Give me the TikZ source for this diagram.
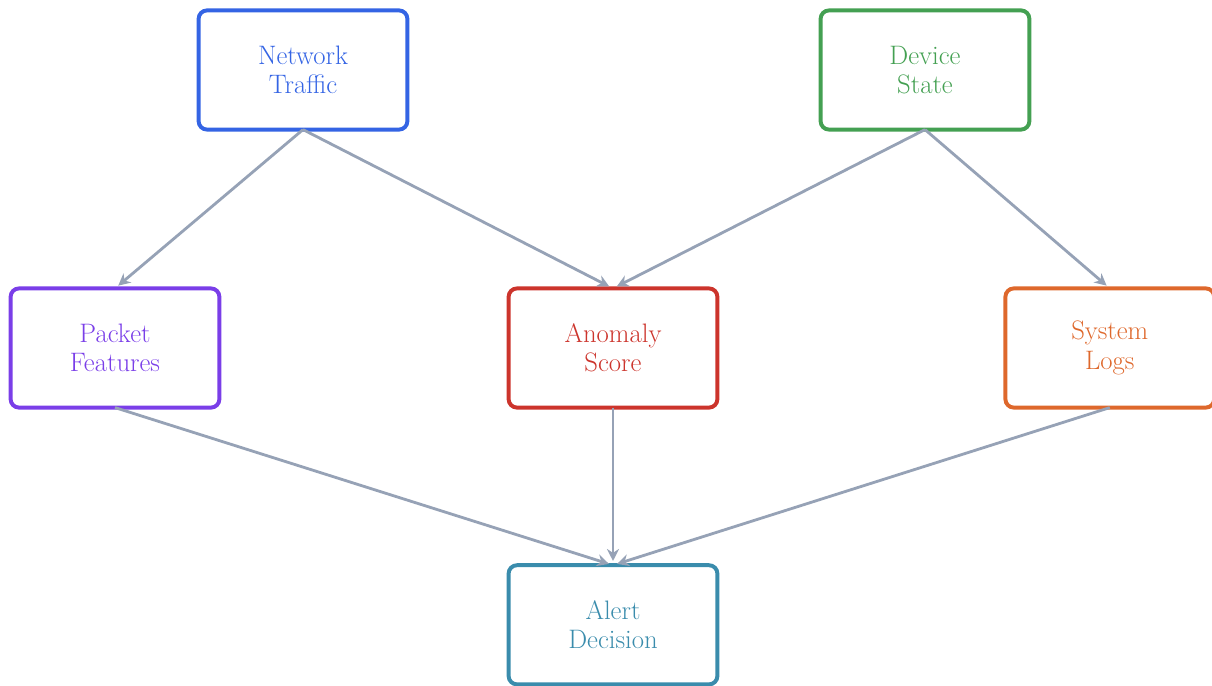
\documentclass[tikz,border=0pt]{standalone}
\usetikzlibrary{positioning,arrows.meta}
\definecolor{netblue}{RGB}{52,100,228}
\definecolor{devgreen}{RGB}{68,160,82}
\definecolor{pktpurple}{RGB}{122,62,232}
\definecolor{anored}{RGB}{204,52,44}
\definecolor{logorange}{RGB}{222,104,44}
\definecolor{alertteal}{RGB}{58,140,172}
\definecolor{flowgray}{RGB}{150,162,182}

\begin{document}
\begin{tikzpicture}
[every node/.style={draw,line width=2.8pt,rounded corners=6pt,minimum width=5.22cm,minimum height=2.98cm,
                    align=center,inner sep=0mm,outer sep=0mm,font=\fontsize{19}{21}\selectfont},
 src/.style={},
 mid/.style={},
 flow/.style={draw=flowgray,line width=2pt,-{Stealth[length=3mm,width=3mm]},shorten >=3pt}]
\useasboundingbox (0,0) rectangle (30.3,-17.15);
\node[src,draw=netblue,text=netblue]         (net) at (7.575,-1.75)                 {Network\\Traffic};
\node[src,draw=devgreen,text=devgreen]       (dev) [on grid,right=15.55cm of net]   {Device\\State};
\node[mid,draw=pktpurple,text=pktpurple]     (pkt) [on grid,below  left=6.95cm and 4.7cm of net]  {Packet\\Features};
\node[mid,draw=anored,text=anored]           (ano) [on grid,below right=6.95cm and 7.75cm of net] {Anomaly\\Score};
\node[mid,draw=logorange,text=logorange]     (log) [on grid,below right=6.95cm and 4.62cm of dev] {System\\Logs};
\node[draw=alertteal,text=alertteal]         (alr) [on grid,below=6.92cm of ano]  {Alert\\Decision};
\draw[flow] (net.south) -- (pkt.north);
\draw[flow] (net.south) -- (ano.north);
\draw[flow] (dev.south) -- (ano.north);
\draw[flow] (dev.south) -- (log.north);
\draw[flow] (pkt.south) -- (alr.north);
\draw[flow] (ano.south) -- (alr.north);
\draw[flow] (log.south) -- (alr.north);
\end{tikzpicture}
\end{document}
